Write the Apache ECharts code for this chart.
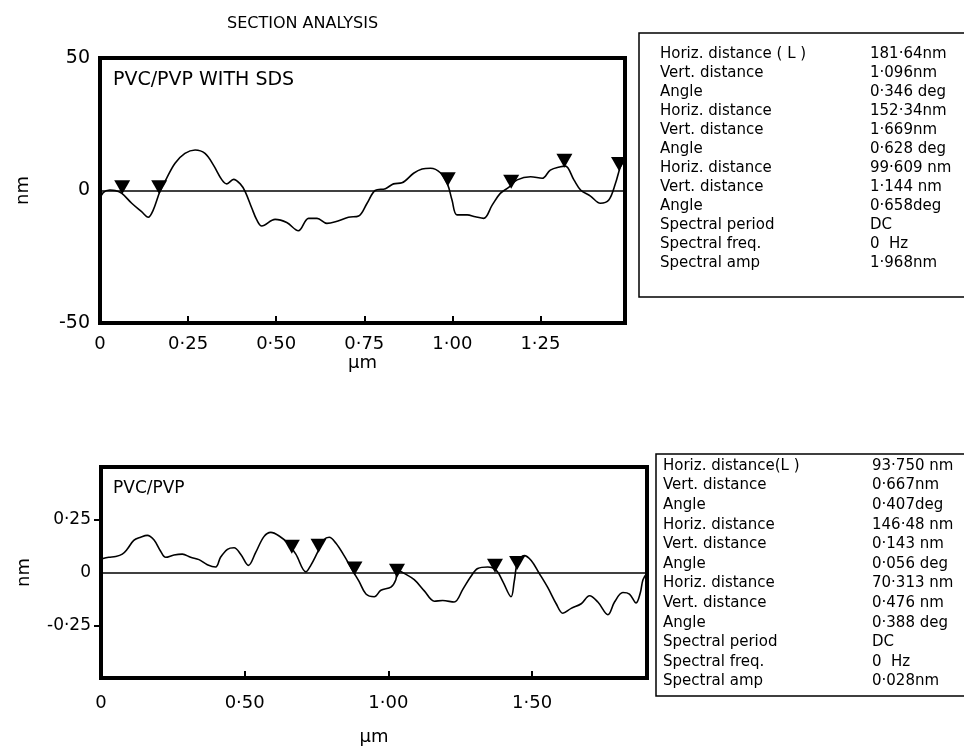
<!DOCTYPE html>
<html>
<head>
<meta charset="utf-8">
<script src="https://cdn.jsdelivr.net/npm/echarts@6/dist/echarts.min.js"></script>
<style>
  html, body { margin: 0; padding: 0; background: #fff; }
  #chart { width: 964px; height: 747px; }
</style>
</head>
<body>
<div id="chart"></div>
<script>
// top profile: PVC/PVP with SDS (x in um, y in nm)
var topX = [0.000, 0.009, 0.028, 0.043, 0.062, 0.090, 0.118, 0.137, 0.151, 0.170, 0.189, 0.213, 0.241, 0.270, 0.298, 0.322, 0.346, 0.360, 0.379, 0.398, 0.412, 0.431, 0.445, 0.459, 0.497, 0.530, 0.563, 0.592, 0.616, 0.644, 0.668, 0.705, 0.734, 0.758, 0.781, 0.810, 0.833, 0.857, 0.890, 0.914, 0.938, 0.966, 0.987, 0.999, 1.013, 1.042, 1.065, 1.089, 1.113, 1.136, 1.160, 1.184, 1.222, 1.255, 1.278, 1.307, 1.321, 1.345, 1.364, 1.392, 1.420, 1.444, 1.463, 1.477, 1.487];
var topY = [-3.3, -0.8, 0.2, 0, -1.1, -4.8, -8, -10.1, -7.4, -0.4, 4.6, 10.3, 14, 15.3, 14, 9.6, 4, 2.5, 4.2, 2.5, -0.4, -6.7, -11.1, -13.4, -10.9, -12.1, -15.2, -10.5, -10.5, -12.4, -11.8, -10.1, -9.6, -4.8, 0, 0.7, 2.5, 2.9, 6.5, 8.1, 8.4, 6.7, 2.1, -3.6, -9.2, -9.2, -9.9, -10.5, -5.5, -1.1, 1.2, 4, 5.2, 4.6, 7.7, 9, 9.2, 4, 0.2, -2.1, -4.8, -3.6, 2.7, 9, 11.5];
var topMarkX = [0.063, 0.168, 0.987, 1.167, 1.318, 1.473];
var topMarkY = [-1, -1, 2, 1, 9, 7.7];
var topXTicks = [0, 0.25, 0.5, 0.75, 1.0, 1.25];
var topYTicks = [-50, 0, 50];

// bottom profile: PVC/PVP (x in um, y in nm)
var botX = [0.004, 0.027, 0.051, 0.074, 0.091, 0.114, 0.138, 0.161, 0.184, 0.207, 0.225, 0.254, 0.283, 0.312, 0.341, 0.370, 0.399, 0.416, 0.440, 0.463, 0.486, 0.513, 0.538, 0.567, 0.591, 0.620, 0.649, 0.678, 0.713, 0.730, 0.753, 0.776, 0.794, 0.817, 0.846, 0.875, 0.898, 0.922, 0.951, 0.974, 1.009, 1.026, 1.032, 1.055, 1.090, 1.125, 1.160, 1.189, 1.229, 1.259, 1.287, 1.311, 1.346, 1.375, 1.398, 1.427, 1.438, 1.450, 1.473, 1.497, 1.525, 1.555, 1.584, 1.607, 1.636, 1.671, 1.700, 1.729, 1.764, 1.787, 1.816, 1.839, 1.862, 1.877, 1.886, 1.900];
var botY = [0.065, 0.072, 0.076, 0.087, 0.110, 0.152, 0.167, 0.176, 0.155, 0.102, 0.072, 0.083, 0.087, 0.072, 0.061, 0.037, 0.026, 0.072, 0.110, 0.117, 0.087, 0.034, 0.094, 0.170, 0.190, 0.173, 0.140, 0.087, 0.003, 0.034, 0.094, 0.155, 0.167, 0.140, 0.080, 0.011, -0.042, -0.102, -0.115, -0.084, -0.069, -0.034, 0.011, -0.004, -0.034, -0.087, -0.136, -0.133, -0.140, -0.080, -0.019, 0.019, 0.026, 0.011, -0.042, -0.115, -0.042, 0.049, 0.080, 0.057, -0.004, -0.072, -0.148, -0.193, -0.170, -0.148, -0.110, -0.140, -0.200, -0.140, -0.095, -0.102, -0.144, -0.095, -0.034, -0.004];
var botMarkX = [0.664, 0.757, 0.882, 1.030, 1.371, 1.448];
var botMarkY = [0.094, 0.098, -0.010, -0.020, 0.003, 0.017];
var botXTicks = [0, 0.5, 1.0, 1.5];
var botYTicks = [-0.25, 0, 0.25];

// readout boxes
var topNames = ['Horiz. distance ( L )', 'Vert. distance', 'Angle', 'Horiz. distance', 'Vert. distance', 'Angle', 'Horiz. distance', 'Vert. distance', 'Angle', 'Spectral period', 'Spectral freq.', 'Spectral amp'];
var topValues = ['181·64nm', '1·096nm', '0·346 deg', '152·34nm', '1·669nm', '0·628 deg', '99·609 nm', '1·144 nm', '0·658deg', 'DC', '0  Hz', '1·968nm'];
var botNames = ['Horiz. distance(L )', 'Vert. distance', 'Angle', 'Horiz. distance', 'Vert. distance', 'Angle', 'Horiz. distance', 'Vert. distance', 'Angle', 'Spectral period', 'Spectral freq.', 'Spectral amp'];
var botValues = ['93·750 nm', '0·667nm', '0·407deg', '146·48 nm', '0·143 nm', '0·056 deg', '70·313 nm', '0·476 nm', '0·388 deg', 'DC', '0  Hz', '0·028nm'];

var FONT = 'DejaVu Sans';

function pairs(xs, ys) {
    var out = [];
    for (var i = 0; i < xs.length; i++) out.push([xs[i], ys[i]]);
    return out;
}
function dotLabel(v) {
    if (v === 0) return '0';
    var s = Math.abs(v) >= 10 ? String(v) : v.toFixed(2);
    return s.replace('.', '·');
}

var graphics = [];
function addBox(x, y, w, h, names, values, tx, vx, ty, step) {
    graphics.push({
        type: 'rect', shape: { x: x, y: y, width: w, height: h },
        style: { fill: null, stroke: '#000', lineWidth: 1.5 }
    });
    for (var i = 0; i < names.length; i++) {
        graphics.push({ type: 'text', x: tx, y: ty + i * step,
            style: { text: names[i], font: '15px "' + FONT + '"', fill: '#000', verticalAlign: 'middle' } });
        graphics.push({ type: 'text', x: vx, y: ty + i * step,
            style: { text: values[i], font: '15px "' + FONT + '"', fill: '#000', verticalAlign: 'middle' } });
    }
}
addBox(639, 33, 340, 264, topNames, topValues, 660, 870, 54, 19);
addBox(656, 454, 330, 242, botNames, botValues, 663, 872, 466, 19.6);
graphics.push({ type: 'text', x: 113, y: 80,
    style: { text: 'PVC/PVP WITH SDS', font: '19px "' + FONT + '"', fill: '#000', verticalAlign: 'middle' } });
graphics.push({ type: 'text', x: 113, y: 489,
    style: { text: 'PVC/PVP', font: '17px "' + FONT + '"', fill: '#000', verticalAlign: 'middle' } });

function xAxisOpt(idx, max, ticks, gap, margin) {
    return {
        type: 'value', gridIndex: idx, min: 0, max: max,
        name: 'µm', nameLocation: 'middle', nameGap: gap,
        nameTextStyle: { fontSize: 18, color: '#000', fontFamily: FONT },
        axisLine: { show: false, onZero: false },
        axisTick: { show: true, inside: true, length: 7, customValues: ticks, lineStyle: { color: '#000', width: 2 } },
        axisLabel: { customValues: ticks, formatter: dotLabel, fontSize: 18, color: '#000', fontFamily: FONT, margin: margin },
        splitLine: { show: false }
    };
}
function yAxisOpt(idx, min, max, labels, ticks, gap, size) {
    return {
        type: 'value', gridIndex: idx, min: min, max: max,
        name: 'nm', nameLocation: 'middle', nameGap: gap, nameRotate: 90,
        nameTextStyle: { fontSize: 18, color: '#000', fontFamily: FONT },
        axisLine: { show: false, onZero: false },
        axisTick: { show: ticks.length > 0, length: 7, customValues: ticks, lineStyle: { color: '#000', width: 2 } },
        axisLabel: { customValues: labels, formatter: dotLabel, fontSize: size, color: '#000', fontFamily: FONT, margin: 10 },
        splitLine: { show: false }
    };
}
function curve(idx, data) {
    return {
        type: 'line', xAxisIndex: idx, yAxisIndex: idx, data: data,
        showSymbol: false, smooth: 0.35, silent: true,
        lineStyle: { color: '#000', width: 1.6 },
        markLine: {
            silent: true, symbol: 'none', label: { show: false },
            lineStyle: { color: '#000', width: 1.5, type: 'solid' },
            data: [{ yAxis: 0 }]
        }
    };
}
function marks(idx, data) {
    return {
        type: 'scatter', xAxisIndex: idx, yAxisIndex: idx, data: data,
        symbol: 'path://M0,0 L14,0 L7,12 Z', symbolSize: [16, 14], symbolOffset: [0, -6],
        itemStyle: { color: '#000', opacity: 1 }, silent: true
    };
}

var myChart = echarts.init(document.getElementById('chart'));
var option = {
    animation: false,
    backgroundColor: '#fff',
    title: {
        text: 'SECTION ANALYSIS', left: 222, top: 11,
        textStyle: { fontSize: 16, fontWeight: 'normal', color: '#000', fontFamily: FONT }
    },
    grid: [
        { left: 100, top: 58, width: 525, height: 265, show: true, borderColor: '#000', borderWidth: 4 },
        { left: 101, top: 467, width: 546, height: 218, show: true, borderColor: '#000', borderWidth: 4 }
    ],
    xAxis: [
        xAxisOpt(0, 1.49, topXTicks, 31, 12),
        xAxisOpt(1, 1.9, botXTicks, 50, 16)
    ],
    yAxis: [
        yAxisOpt(0, -50, 50, topYTicks, [], 68, 19),
        yAxisOpt(1, -0.5, 0.5, botYTicks, [-0.25, 0.25], 68, 17)
    ],
    series: [
        curve(0, pairs(topX, topY)),
        marks(0, pairs(topMarkX, topMarkY)),
        curve(1, pairs(botX, botY)),
        marks(1, pairs(botMarkX, botMarkY))
    ],
    graphic: graphics
};
myChart.setOption(option);
</script>
</body>
</html>
